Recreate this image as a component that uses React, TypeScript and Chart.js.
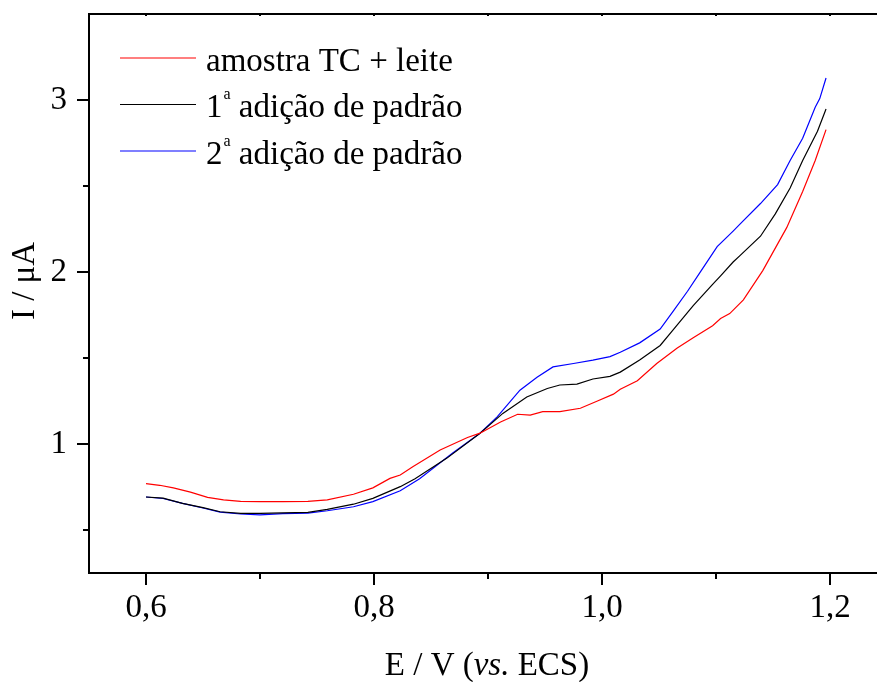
import { useEffect, useRef } from 'react';
import { Chart, registerables } from 'chart.js';

Chart.register(...registerables);

// ---- data ----
const seriesNames = ['amostra TC + leite', '1ª adição de padrão', '2ª adição de padrão'];
const seriesColors = ['#ff0000', '#000000', '#0000ff'];

const redX = [0.600, 0.612, 0.624, 0.639, 0.654, 0.668, 0.683, 0.700, 0.720, 0.742, 0.759, 0.782, 0.799, 0.814, 0.823, 0.834, 0.858, 0.882, 0.893, 0.911, 0.926, 0.937, 0.948, 0.963, 0.981, 0.996, 1.010, 1.016, 1.031, 1.048, 1.066, 1.080, 1.097, 1.104, 1.112, 1.124, 1.141, 1.162, 1.176, 1.187, 1.1965];
const redY = [0.770, 0.760, 0.745, 0.720, 0.690, 0.675, 0.667, 0.665, 0.665, 0.666, 0.675, 0.708, 0.745, 0.800, 0.820, 0.868, 0.965, 1.038, 1.063, 1.128, 1.173, 1.168, 1.188, 1.188, 1.208, 1.250, 1.290, 1.318, 1.368, 1.468, 1.558, 1.618, 1.688, 1.730, 1.758, 1.838, 2.008, 2.258, 2.468, 2.648, 2.828];

const blackX = [0.600, 0.615, 0.632, 0.650, 0.665, 0.683, 0.700, 0.720, 0.742, 0.759, 0.782, 0.799, 0.823, 0.836, 0.864, 0.893, 0.913, 0.934, 0.952, 0.963, 0.978, 0.992, 1.007, 1.016, 1.033, 1.051, 1.062, 1.080, 1.097, 1.104, 1.115, 1.121, 1.139, 1.152, 1.165, 1.176, 1.189, 1.1965];
const blackY = [0.692, 0.685, 0.655, 0.630, 0.606, 0.597, 0.597, 0.600, 0.603, 0.620, 0.650, 0.684, 0.752, 0.798, 0.918, 1.063, 1.178, 1.273, 1.323, 1.343, 1.348, 1.378, 1.393, 1.418, 1.488, 1.573, 1.660, 1.805, 1.928, 1.978, 2.058, 2.095, 2.208, 2.338, 2.488, 2.648, 2.818, 2.948];

const blueX = [0.600, 0.615, 0.632, 0.650, 0.665, 0.683, 0.700, 0.720, 0.742, 0.759, 0.782, 0.799, 0.823, 0.840, 0.869, 0.893, 0.908, 0.928, 0.943, 0.957, 0.975, 0.992, 1.007, 1.016, 1.033, 1.051, 1.062, 1.075, 1.086, 1.101, 1.115, 1.121, 1.139, 1.154, 1.165, 1.176, 1.187, 1.191, 1.1965];
const blueY = [0.692, 0.683, 0.655, 0.628, 0.604, 0.593, 0.588, 0.595, 0.598, 0.612, 0.635, 0.665, 0.728, 0.798, 0.948, 1.063, 1.158, 1.313, 1.388, 1.448, 1.468, 1.488, 1.508, 1.533, 1.588, 1.668, 1.768, 1.888, 1.998, 2.148, 2.238, 2.278, 2.398, 2.508, 2.648, 2.778, 2.958, 3.008, 3.128];

const xMajorTicks = [0.6, 0.8, 1.0, 1.2];
const xMinorTicks = [0.7, 0.9, 1.1];
const yMajorTicks = [1, 2, 3];
const yMinorTicks = [0.5, 1.5, 2.5];

const X_MIN = 0.55;
const X_MAX = 1.2412;
const Y_MIN = 0.25;
const Y_MAX = 3.5;

const FONT = '"Liberation Serif", "DejaVu Serif", serif';
const FS = 33;

const fmtX = (v: number) => v.toFixed(1).replace('.', ',');

export default function App() {
  const ref = useRef<HTMLCanvasElement>(null);

  useEffect(() => {
    document.body.style.margin = '0';
    const xs = [redX, blackX, blueX];
    const ys = [redY, blackY, blueY];

    const decor = {
      id: 'decor',
      afterDraw(chart: any) {
        const ctx = chart.ctx;
        const ca = chart.chartArea;
        const sx = chart.scales.x;
        const sy = chart.scales.y;
        ctx.save();
        ctx.strokeStyle = '#000';
        ctx.lineWidth = 2;
        // top border
        ctx.beginPath();
        ctx.moveTo(ca.left - 1, ca.top);
        ctx.lineTo(ca.right, ca.top);
        ctx.stroke();
        // ticks
        const tick = (x1: number, y1: number, x2: number, y2: number) => {
          ctx.beginPath();
          ctx.moveTo(x1, y1);
          ctx.lineTo(x2, y2);
          ctx.stroke();
        };
        xMajorTicks.forEach((v) => {
          const px = Math.round(sx.getPixelForValue(v));
          tick(px, ca.bottom, px, ca.bottom + 12);
          tick(px, ca.top, px, ca.top + 2);
        });
        xMinorTicks.forEach((v) => {
          const px = Math.round(sx.getPixelForValue(v));
          tick(px, ca.bottom, px, ca.bottom + 6);
          tick(px, ca.top, px, ca.top + 2);
        });
        yMajorTicks.forEach((v) => {
          const py = Math.round(sy.getPixelForValue(v));
          tick(ca.left, py, ca.left - 12, py);
        });
        yMinorTicks.forEach((v) => {
          const py = Math.round(sy.getPixelForValue(v));
          tick(ca.left, py, ca.left - 6, py);
        });

        // legend
        const lx0 = ca.left + 31;
        const lx1 = ca.left + 107;
        const tx = ca.left + 117;
        const ly0 = ca.top + 44;
        const lstep = 46.5;
        ctx.fillStyle = '#000';
        ctx.textBaseline = 'alphabetic';
        ctx.textAlign = 'left';
        seriesNames.forEach((name, i) => {
          const y = ly0 + i * lstep;
          ctx.strokeStyle = seriesColors[i];
          ctx.lineWidth = 1.2;
          ctx.beginPath();
          ctx.moveTo(lx0, y);
          ctx.lineTo(lx1, y);
          ctx.stroke();
          const base = y + 12.5;
          ctx.font = `${FS}px ${FONT}`;
          if (name.includes('ª')) {
            const [pre, post] = name.split('ª');
            ctx.fillText(pre, tx, base);
            let x = tx + ctx.measureText(pre).width + 1;
            ctx.font = `16px ${FONT}`;
            ctx.fillText('a', x, base - 18);
            x += ctx.measureText('a').width;
            ctx.font = `${FS}px ${FONT}`;
            ctx.fillText(post, x, base);
          } else {
            ctx.fillText(name, tx, base);
          }
        });

        // x title with italic part
        const parts = [
          { t: 'E / V (', it: false },
          { t: 'vs.', it: true },
          { t: ' ECS)', it: false },
        ];
        const fontFor = (it: boolean) => `${it ? 'italic ' : ''}${FS}px ${FONT}`;
        let total = 0;
        parts.forEach((p) => {
          ctx.font = fontFor(p.it);
          total += ctx.measureText(p.t).width;
        });
        let x = 487 - total / 2;
        parts.forEach((p) => {
          ctx.font = fontFor(p.it);
          ctx.fillText(p.t, x, 675);
          x += ctx.measureText(p.t).width;
        });

        // y title
        ctx.save();
        ctx.translate(34, 281);
        ctx.rotate(-Math.PI / 2);
        ctx.font = fontFor(false);
        ctx.textAlign = 'center';
        ctx.fillText('I / μA', 0, 0);
        ctx.restore();

        ctx.restore();
      },
    };

    const chart = new Chart(ref.current as HTMLCanvasElement, {
      type: 'scatter',
      data: {
        datasets: seriesNames.map((name, i) => ({
          label: name,
          data: xs[i].map((x, j) => ({ x, y: ys[i][j] })),
          showLine: true,
          borderColor: seriesColors[i],
          backgroundColor: seriesColors[i],
          borderWidth: 1.2,
          pointRadius: 0,
          tension: 0,
        })),
      },
      options: {
        responsive: false,
        animation: false,
        events: [],
        layout: { padding: { top: 14, right: 0, left: 0, bottom: 0 } },
        plugins: { legend: { display: false }, tooltip: { enabled: false }, title: { display: false } },
        scales: {
          x: {
            type: 'linear',
            min: X_MIN,
            max: X_MAX,
            afterBuildTicks: (s: any) => {
              s.ticks = xMajorTicks.map((v) => ({ value: v }));
            },
            afterFit: (s: any) => {
              s.height = 109;
              s.paddingLeft = 0;
              s.paddingRight = 0;
            },
            grid: { display: true, drawOnChartArea: false, drawTicks: false },
            border: { display: true, width: 2, color: '#000' },
            ticks: {
              callback: (v: any) => fmtX(Number(v)),
              font: { family: FONT, size: FS },
              color: '#000',
              padding: 16,
              maxRotation: 0,
              autoSkip: false,
            },
          },
          y: {
            type: 'linear',
            min: Y_MIN,
            max: Y_MAX,
            afterBuildTicks: (s: any) => {
              s.ticks = yMajorTicks.map((v) => ({ value: v }));
            },
            afterFit: (s: any) => {
              s.width = 89;
              s.paddingTop = 0;
              s.paddingBottom = 0;
            },
            grid: { display: true, drawOnChartArea: false, drawTicks: false },
            border: { display: true, width: 2, color: '#000' },
            ticks: {
              callback: (v: any) => String(v),
              font: { family: FONT, size: FS },
              color: '#000',
              padding: 22,
              autoSkip: false,
            },
          },
        },
      },
      plugins: [decor],
    });
    return () => chart.destroy();
  }, []);

  return <canvas ref={ref} width={877} height={682} style={{ display: 'block' }} />;
}
